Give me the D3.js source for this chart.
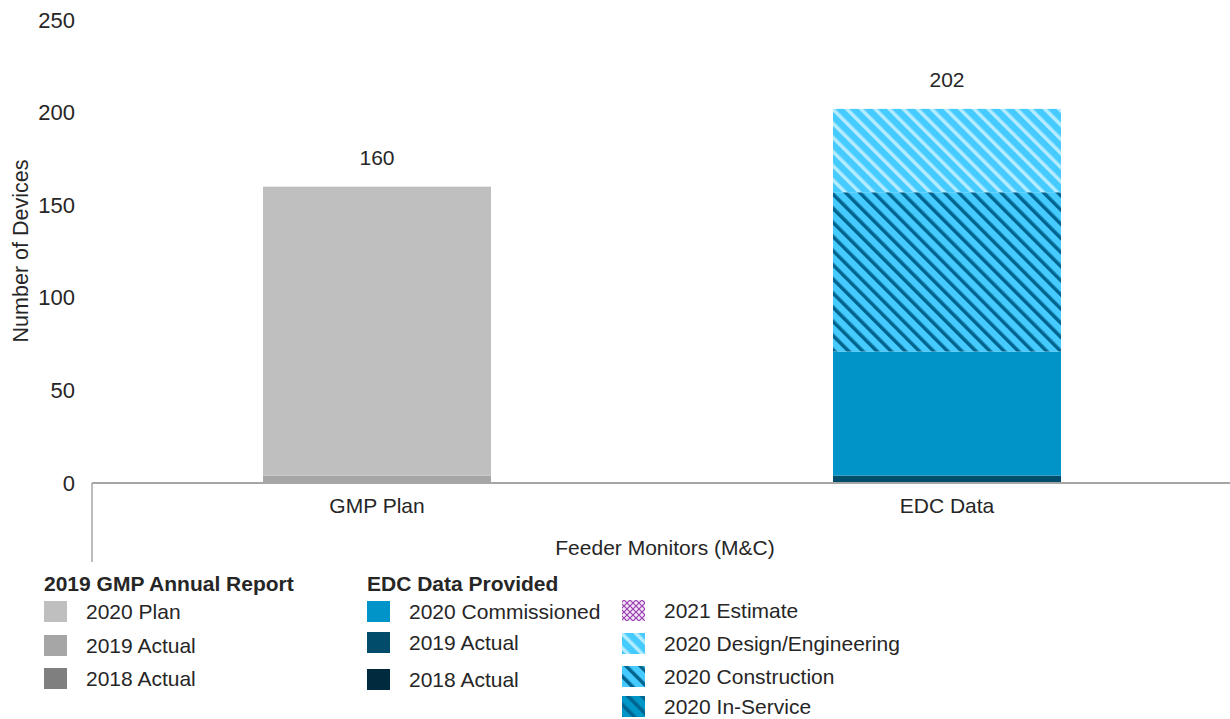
<!DOCTYPE html>
<html><head><meta charset="utf-8">
<script src="https://cdn.jsdelivr.net/npm/d3@7"></script>
<style>body{margin:0;background:#fff;} text{font-family:"Liberation Sans",Arial,sans-serif;fill:#262626;}</style>
</head><body>
<svg id="chart" width="1230" height="719"></svg>
<script>
const categories = ["GMP Plan", "EDC Data"];
const seriesNames = ["GMP 2018 Actual","GMP 2019 Actual","GMP 2020 Plan","EDC 2018 Actual","EDC 2019 Actual","EDC 2020 Commissioned","EDC 2020 In-Service","EDC 2020 Construction","EDC 2020 Design/Engineering","EDC 2021 Estimate"];
const gmpValues = [0, 4, 156, 0, 0, 0, 0, 0, 0, 0];
const edcValues = [0, 0, 0, 0, 4, 67, 0, 86, 45, 0];
const totals = [160, 202];
const yTicks = [0, 50, 100, 150, 200, 250];
const legendGroups = [
  {title: "2019 GMP Annual Report", items: ["GMP 2020 Plan","GMP 2019 Actual","GMP 2018 Actual"], labels: ["2020 Plan","2019 Actual","2018 Actual"]},
  {title: "EDC Data Provided", items: ["EDC 2020 Commissioned","EDC 2019 Actual","EDC 2018 Actual"], labels: ["2020 Commissioned","2019 Actual","2018 Actual"]},
  {title: "", items: ["EDC 2021 Estimate","EDC 2020 Design/Engineering","EDC 2020 Construction","EDC 2020 In-Service"], labels: ["2021 Estimate","2020 Design/Engineering","2020 Construction","2020 In-Service"]}
];

const fills = {
  "GMP 2018 Actual": "#7f7f7f",
  "GMP 2019 Actual": "#a6a6a6",
  "GMP 2020 Plan": "#bfbfbf",
  "EDC 2018 Actual": "#002a3d",
  "EDC 2019 Actual": "#004d6b",
  "EDC 2020 Commissioned": "#0094c8",
  "EDC 2020 In-Service": "url(#pInService)",
  "EDC 2020 Construction": "url(#pConstruction)",
  "EDC 2020 Design/Engineering": "url(#pDesign)",
  "EDC 2021 Estimate": "url(#pEstimate)"
};

const svg = d3.select("#chart");
const defs = svg.append("defs");
function stripe(id, bg, fg, w) {
  const p = defs.append("pattern").attr("id", id).attr("patternUnits","userSpaceOnUse")
    .attr("width", 10).attr("height", 10).attr("patternTransform","rotate(-45)");
  p.append("rect").attr("width",10).attr("height",10).attr("fill",bg);
  p.append("rect").attr("x",0).attr("width",w).attr("height",10).attr("fill",fg);
}
stripe("pDesign", "#45cbff", "#b6ecff", 3.5);
stripe("pConstruction", "#45cbff", "#00648e", 3.5);
stripe("pInService", "#0096c8", "#006590", 3.5);
const pe = defs.append("pattern").attr("id","pEstimate").attr("patternUnits","userSpaceOnUse").attr("width",6).attr("height",6);
pe.append("rect").attr("width",6).attr("height",6).attr("fill","#f3e6f7");
pe.append("path").attr("d","M0,0L6,6M6,0L0,6").attr("stroke","#9b3fb0").attr("stroke-width",1.2);

const x = d3.scaleBand().domain(categories).range([92, 1232]).paddingInner(0.6).paddingOuter(0.3);
const y = d3.scaleLinear().domain([0, 250]).range([483, 20]);

const table = categories.map((c, i) => {
  const row = {category: c};
  seriesNames.forEach((s, j) => row[s] = (i === 0 ? gmpValues : edcValues)[j]);
  return row;
});
const stacked = d3.stack().keys(seriesNames)(table);

svg.append("g").selectAll("g").data(stacked).join("g")
  .attr("fill", d => fills[d.key])
  .selectAll("rect").data(d => d).join("rect")
  .attr("x", d => x(d.data.category))
  .attr("width", x.bandwidth())
  .attr("y", d => y(d[1]))
  .attr("height", d => y(d[0]) - y(d[1]));

// value labels
svg.append("g").selectAll("text").data(categories).join("text")
  .attr("x", d => x(d) + x.bandwidth()/2)
  .attr("y", (d, i) => y(totals[i]) - 22)
  .attr("text-anchor","middle").attr("font-size", 21)
  .text((d, i) => totals[i]);

// y axis (labels only)
const yAxis = svg.append("g").attr("transform","translate(75,0)")
  .call(d3.axisLeft(y).tickValues(yTicks).tickSize(0).tickPadding(0));
yAxis.select(".domain").remove();
yAxis.selectAll("text").attr("font-size", 22).attr("fill","#262626").style("font-family","Liberation Sans, Arial, sans-serif");

// x axis
const xAxis = svg.append("g").attr("transform","translate(0,483)")
  .call(d3.axisBottom(x).tickSize(0).tickPadding(15));
xAxis.select(".domain").remove();
xAxis.selectAll("text").attr("font-size", 21).attr("fill","#262626").style("font-family","Liberation Sans, Arial, sans-serif");
svg.append("line").attr("x1", 92).attr("x2", 1230).attr("y1", 483).attr("y2", 483).attr("stroke","#a6a6a6").attr("stroke-width", 2);
svg.append("line").attr("x1", 92).attr("x2", 92).attr("y1", 483).attr("y2", 562).attr("stroke","#a6a6a6").attr("stroke-width", 1.5);

svg.append("text").attr("x", 665).attr("y", 555).attr("text-anchor","middle").attr("font-size",21).text("Feeder Monitors (M&C)");
svg.append("text").attr("transform","translate(28,251) rotate(-90)").attr("text-anchor","middle").attr("font-size",21.5).text("Number of Devices");

// legend
const legX = [44, 367, 622];
const legTitleY = 591;
const rowYs = [[612, 646, 679], [612, 643, 680], [611, 644, 677, 707]];
legendGroups.forEach((g, gi) => {
  const lg = svg.append("g");
  if (g.title) lg.append("text").attr("x", legX[gi]).attr("y", legTitleY).attr("font-size", 21).attr("font-weight","bold").attr("fill","#0d0d0d").text(g.title);
  g.items.forEach((it, k) => {
    const cy = rowYs[gi][k];
    lg.append("rect").attr("x", legX[gi]).attr("y", cy - 11).attr("width", 23).attr("height", 21).attr("fill", fills[it]);
    lg.append("text").attr("x", legX[gi] + 42).attr("y", cy + 7).attr("font-size", 21).text(g.labels[k]);
  });
});
</script>
</body></html>
